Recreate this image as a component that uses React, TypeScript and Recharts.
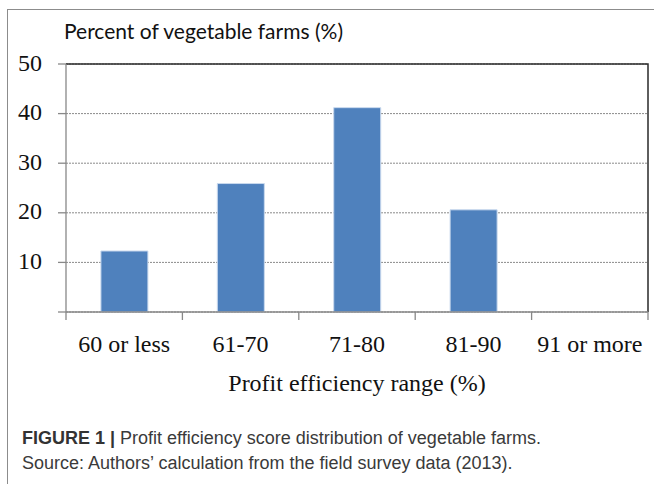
import React from 'react';
import {
  BarChart,
  Bar,
  XAxis,
  YAxis,
  CartesianGrid,
  ReferenceArea,
} from 'recharts';

const categories = ['60 or less', '61-70', '71-80', '81-90', '91 or more'];
const farmShare = [12.3, 25.9, 41.2, 20.6, 0];
const yTicks = [0, 10, 20, 30, 40, 50];

const data = categories.map((range, i) => ({ range, share: farmShare[i] }));

const serif = '"Liberation Serif", "Times New Roman", serif';
const sans = '"Liberation Sans", Arial, sans-serif';

function RangeTick({ x, y, payload, index }: any) {
  const half = payload?.offset ?? 0;
  const isLast = index === categories.length - 1;
  return (
    <g>
      <line x1={x - half} x2={x - half} y1={y} y2={y + 8} stroke="#888" strokeWidth={1.3} />
      {isLast && (
        <line x1={x + half} x2={x + half} y1={y} y2={y + 8} stroke="#888" strokeWidth={1.3} />
      )}
      <text x={x} y={y + 40} textAnchor="middle" fontFamily={serif} fontSize={24} fill="#111">
        {payload.value}
      </text>
    </g>
  );
}

// top and right edges of the plot frame
function FrameEdge({ x, y, width, height }: any) {
  return (
    <path
      d={`M${x},${y}H${x + width}V${y + height}`}
      fill="none"
      stroke="#2a2a2a"
      strokeWidth={1.5}
    />
  );
}

export default function App() {
  return (
    <div style={{ position: 'absolute', left: 0, top: 0, width: 654, height: 484, background: '#fff' }}>
      <div
        style={{
          position: 'absolute',
          left: 7,
          top: 9,
          width: 660,
          height: 500,
          borderTop: '1px solid #8c8c8c',
          borderLeft: '1px solid #8c8c8c',
        }}
      />
      <div
        style={{
          position: 'absolute',
          left: 64,
          top: 20,
          fontFamily: 'Lato, "Open Sans", sans-serif',
          fontSize: 21,
          lineHeight: '21px',
          color: '#111',
          whiteSpace: 'nowrap',
        }}
      >
        Percent of vegetable farms (%)
      </div>

      <div style={{ position: 'absolute', left: 0, top: 0 }}>
        <BarChart
          width={654}
          height={400}
          data={data}
          margin={{ top: 64, right: 6, left: 0, bottom: 0 }}
          barCategoryGap="30%"
        >
          <CartesianGrid
            vertical={false}
            stroke="#8a8a8a"
            strokeDasharray="2 1"
          />
          <XAxis
            dataKey="range"
            height={88}
            axisLine={{ stroke: '#888', strokeWidth: 1.3 }}
            tickLine={false}
            tickSize={0}
            tickMargin={0}
            interval={0}
            tick={<RangeTick />}
            label={{
              value: 'Profit efficiency range (%)',
              position: 'insideBottom',
              offset: 9,
              style: { fontFamily: serif, fontSize: 24, fill: '#111' },
            }}
          />
          <YAxis
            width={66}
            domain={[0, 50]}
            ticks={yTicks}
            interval={0}
            tickSize={8}
            tickMargin={16}
            tickLine={{ stroke: '#888', strokeWidth: 1.3 }}
            axisLine={{ stroke: '#888', strokeWidth: 1.3 }}
            tickFormatter={(v: number) => (v === 0 ? '' : String(v))}
            tick={{ fontFamily: serif, fontSize: 24, fill: '#111', dy: -2 }}
          />
          <ReferenceArea
            x1={categories[0]}
            x2={categories[categories.length - 1]}
            y1={0}
            y2={50}
            shape={<FrameEdge />}
          />
          <Bar
            dataKey="share"
            fill="#4f81bd"
            stroke="#c9d9ee"
            strokeWidth={1}
            isAnimationActive={false}
          />
        </BarChart>
      </div>

      <div
        style={{
          position: 'absolute',
          left: 22,
          top: 426,
          fontFamily: sans,
          fontSize: 18,
          lineHeight: '25px',
          color: '#3a3a3a',
          whiteSpace: 'nowrap',
        }}
      >
        <div>
          <span style={{ fontWeight: 'bold', color: '#333' }}>FIGURE 1 |</span> Profit efficiency score
          distribution of vegetable farms.
        </div>
        <div>Source: Authors’ calculation from the field survey data (2013).</div>
      </div>
    </div>
  );
}
